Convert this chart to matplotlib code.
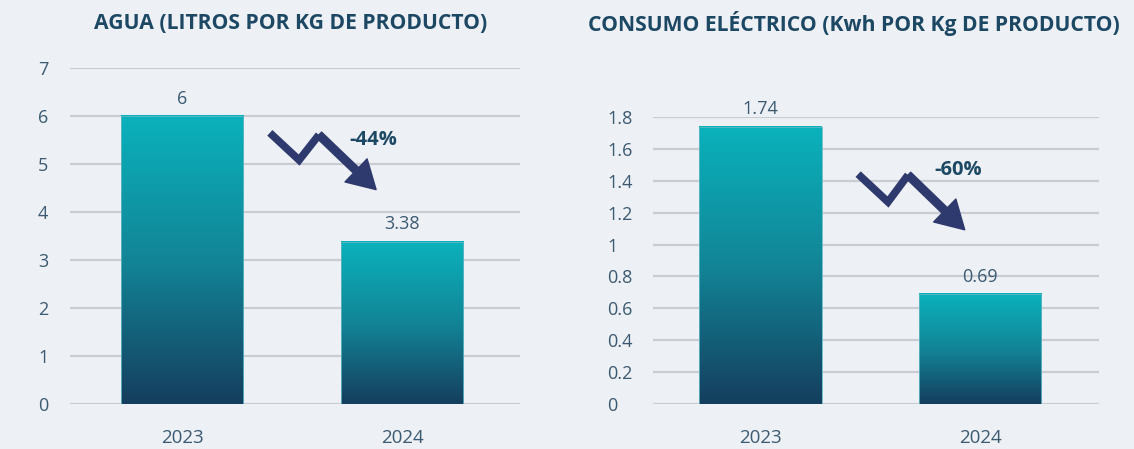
import numpy as np
from matplotlib import pyplot as plt
import matplotlib.colors
from matplotlib.patches import FancyArrowPatch

plt.rcParams['font.family'] = ['Open Sans', 'DejaVu Sans']

# data
years = ["2023", "2024"]
agua = [6, 3.38]
agua_labels = ["6", "3.38"]
energia = [1.74, 0.69]
energia_labels = ["1.74", "0.69"]
agua_change = "-44%"
energia_change = "-60%"

bg = "#edf0f5"
txt = "#3b5a72"
title_c = "#1d4864"
arrow_c = "#2e3a6d"
grid_c = "#c9cdd3"
cmap = matplotlib.colors.LinearSegmentedColormap.from_list("", ["#153e5e", "#128597", "#0ab2bc"])
grad = np.linspace(0, 1, 256).reshape(-1, 1)

fig = plt.figure(figsize=(11.34, 4.49), dpi=100, facecolor=bg)


def panel(rect, xlim, vals, labels, ticks, ylim, title, title_x, change, zig, pct_pos, tick_pad):
    ax = fig.add_axes(rect)
    ax.set_facecolor(bg)
    x = np.arange(len(vals))
    bars = ax.bar(x, vals, width=0.555, color="none", edgecolor="#5fb8c4", linewidth=0.6, zorder=3)
    for b in bars:
        x0, w, h = b.get_x(), b.get_width(), b.get_height()
        ax.imshow(grad, cmap=cmap, origin="lower", aspect="auto",
                  extent=(x0, x0 + w, 0, h), zorder=2)
    for b, lab in zip(bars, labels):
        ax.annotate(lab, (b.get_x() + b.get_width() / 2, b.get_height()),
                    xytext=(0, 6), textcoords="offset points", ha="center", va="bottom",
                    fontsize=13, color=txt)
    ax.set_xlim(*xlim)
    ax.set_ylim(*ylim)
    ax.set_yticks(ticks)
    ax.set_yticklabels([("%g" % t) for t in ticks], ha="left")
    ax.set_xticks(x)
    ax.set_xticklabels(years)
    ax.tick_params(axis="y", length=0, pad=tick_pad, labelsize=13, labelcolor=txt)
    ax.tick_params(axis="x", length=0, pad=18, labelsize=13.5, labelcolor=txt)
    for s in ax.spines.values():
        s.set_visible(False)
    ax.grid(axis="y", color=grid_c, linewidth=1.6, zorder=0)
    ax.set_axisbelow(True)
    fig.text(title_x, 0.948, title, ha="center", va="center", fontsize=15.2,
             fontweight="bold", color=title_c)
    # zigzag arrow
    xs = [p[0] for p in zig[:3]]
    ys = [p[1] for p in zig[:3]]
    ax.plot(xs, ys, transform=ax.transAxes, color=arrow_c, linewidth=5.5,
            solid_joinstyle="miter", solid_capstyle="butt", zorder=5, clip_on=False)
    ax.add_patch(FancyArrowPatch(zig[2], zig[3], transform=ax.transAxes,
                                 arrowstyle="simple,head_length=1.0,head_width=1.15,tail_width=0.275",
                                 mutation_scale=20, color=arrow_c, shrinkA=0, shrinkB=0,
                                 zorder=5, clip_on=False))
    ax.text(pct_pos[0], pct_pos[1], change, transform=ax.transAxes, ha="center", va="center",
            fontsize=14.5, fontweight="bold", color=title_c)
    return ax


panel([0.0617, 0.1002, 0.397, 0.7484], (-0.51, 1.536), agua, agua_labels,
      np.arange(0, 8, 1), (0, 7), "AGUA (LITROS POR KG DE PRODUCTO)", 0.256, agua_change,
      [(0.444, 0.807), (0.509, 0.726), (0.553, 0.801), (0.680, 0.638)], (0.673, 0.786), 23)

panel([0.5758, 0.1002, 0.3933, 0.6392], (-0.489, 1.539), energia, energia_labels,
      [0, 0.2, 0.4, 0.6, 0.8, 1, 1.2, 1.4, 1.6, 1.8], (0, 1.8),
      "CONSUMO ELÉCTRICO (Kwh POR Kg DE PRODUCTO)", 0.753, energia_change,
      [(0.460, 0.801), (0.527, 0.704), (0.572, 0.798), (0.699, 0.607)], (0.684, 0.815), 33)

fig.savefig("out.png", dpi=100, facecolor=bg)
